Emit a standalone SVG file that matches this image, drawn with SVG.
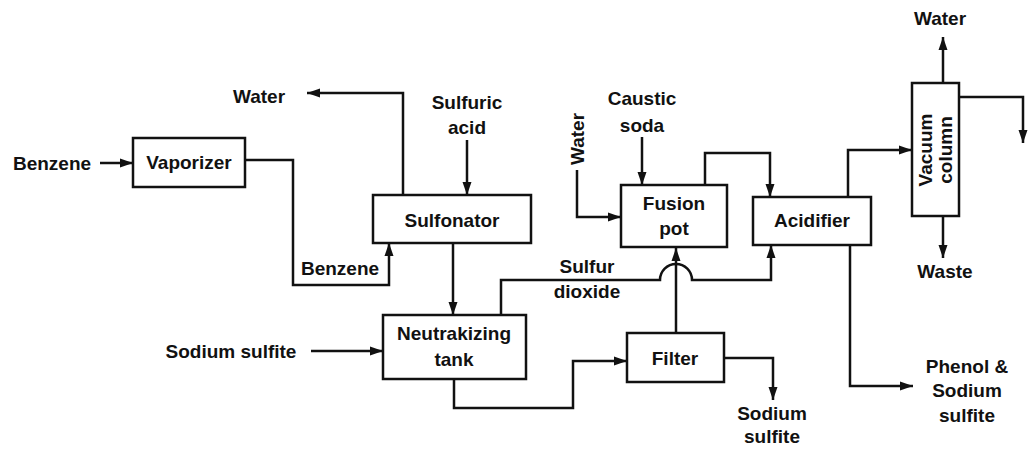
<svg xmlns="http://www.w3.org/2000/svg" width="1028" height="450" viewBox="0 0 1028 450">
<style>
text{font-family:"Liberation Sans",Arial,sans-serif;font-size:19px;font-weight:bold;fill:#111;text-anchor:middle}
.box{fill:#fff;stroke:#111;stroke-width:2.5}
.ln{fill:none;stroke:#111;stroke-width:2.5;marker-end:url(#ah)}
</style>
<defs>
<marker id="ah" markerUnits="userSpaceOnUse" markerWidth="14" markerHeight="10" refX="13" refY="5" orient="auto">
<path d="M0,0.5 L13,5 L0,9.5 z" fill="#111"/>
</marker>
</defs>
<rect width="1028" height="450" fill="#fff"/>
<g id="connectors">
<path class="ln" d="M100 163 H133"/>
<path class="ln" d="M245 160 H293 V285 H389 V243"/>
<path class="ln" d="M403 195 V93 H307"/>
<path class="ln" d="M467 140 V195"/>
<path class="ln" d="M453 243 V315"/>
<path class="ln" d="M311 351 H383"/>
<path class="ln" d="M454 379 V408 H573 V361 H627"/>
<path class="ln" d="M724 358 H773 V400"/>
<path class="ln" d="M676 333 V248"/>
<path class="ln" d="M501 315 V280 H660 A16 16 0 0 1 692 280 H771 V245"/>
<path class="ln" d="M577 170 V217 H621"/>
<path class="ln" d="M642 137 V185"/>
<path class="ln" d="M705 185 V153 H770 V197"/>
<path class="ln" d="M848 197 V150 H912"/>
<path class="ln" d="M850 245 V386 H913"/>
<path class="ln" d="M943 83 V37"/>
<path class="ln" d="M943 216 V258"/>
<path class="ln" d="M959 97 H1023 V143"/>
</g>
<g id="vaporizer"><rect class="box" x="133" y="138" width="112" height="49"/><text x="189" y="169">Vaporizer</text></g>
<g id="sulfonator"><rect class="box" x="373" y="195" width="158" height="48"/><text x="452" y="227">Sulfonator</text></g>
<g id="neutralizing"><rect class="box" x="383" y="315" width="143" height="64"/><text x="454" y="340">Neutrakizing</text><text x="454" y="366">tank</text></g>
<g id="filter"><rect class="box" x="627" y="333" width="97" height="49"/><text x="675" y="365">Filter</text></g>
<g id="fusion"><rect class="box" x="621" y="185" width="106" height="62"/><text x="674" y="210">Fusion</text><text x="674" y="235">pot</text></g>
<g id="acidifier"><rect class="box" x="753" y="197" width="118" height="48"/><text x="812" y="227">Acidifier</text></g>
<g id="vacuum"><rect class="box" x="912" y="83" width="47" height="133"/><text transform="rotate(-90 932 150)" x="932" y="150">Vacuum</text><text transform="rotate(-90 952 150)" x="952" y="150">column</text></g>
<g id="labels">
<text x="52" y="170">Benzene</text>
<text x="259" y="103">Water</text>
<text x="467" y="109">Sulfuric</text>
<text x="467" y="134">acid</text>
<text x="340" y="275">Benzene</text>
<text x="642" y="105">Caustic</text>
<text x="642" y="132">soda</text>
<text transform="rotate(-90 584 139)" x="584" y="139">Water</text>
<text x="587" y="273">Sulfur</text>
<text x="587" y="298">dioxide</text>
<text x="940" y="25">Water</text>
<text x="945" y="278">Waste</text>
<text x="231" y="358">Sodium sulfite</text>
<text x="772" y="420">Sodium</text>
<text x="772" y="443">sulfite</text>
<text x="967" y="373">Phenol &amp;</text>
<text x="967" y="397">Sodium</text>
<text x="967" y="422">sulfite</text>
</g>
</svg>
